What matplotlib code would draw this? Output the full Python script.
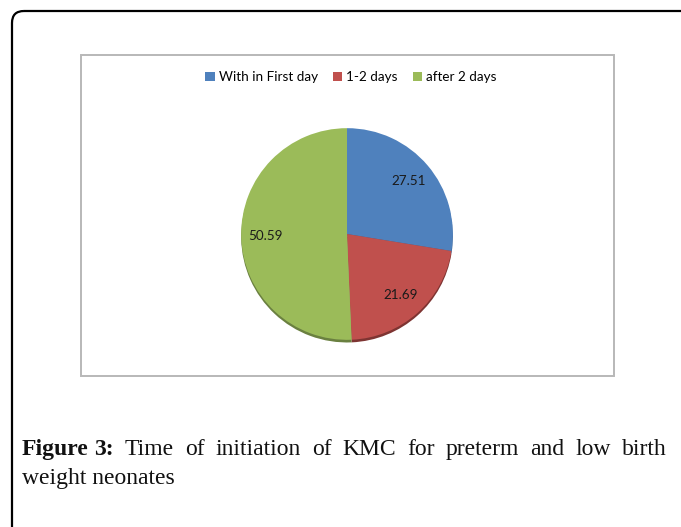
import matplotlib.pyplot as plt
from matplotlib.patches import FancyBboxPatch, Rectangle

# data
categories = ["With in First day", "1-2 days", "after 2 days"]
values = [27.51, 21.69, 50.59]
colors = ["#4F81BD", "#C0504D", "#9BBB59"]
shadow_colors = ["#3A5F8C", "#7E3432", "#6A8040"]

W, H = 681, 527
fig = plt.figure(figsize=(W / 100, H / 100), dpi=100)

# background axes in pixel coordinates
bg = fig.add_axes([0, 0, 1, 1])
bg.set_xlim(0, W)
bg.set_ylim(H, 0)
bg.axis("off")

# outer rounded frame (runs off right and bottom edge)
bg.add_patch(FancyBboxPatch((12, 11), 720, 560, boxstyle="round,pad=0,rounding_size=12",
                            fill=False, edgecolor="black", linewidth=1.6))
# chart box
bg.add_patch(Rectangle((81, 55), 533, 321, fill=False, edgecolor="#B8B8B8", linewidth=1.4))

# pie axes
cx, cy, half = 347, 234, 109
ax = fig.add_axes([(cx - half) / W, (H - cy - half) / H, 2 * half / W, 2 * half / H])

# shadow
ax.pie(values, colors=shadow_colors, startangle=90, counterclock=False,
       center=(0.0, -0.025), radius=1.0, normalize=True)
wedges, texts = ax.pie(values, labels=[f"{v:.2f}" for v in values], colors=colors,
                       startangle=90, counterclock=False, radius=1.0,
                       labeldistance=0.77, normalize=True,
                       textprops=dict(fontsize=9.7, color="#1a1a1a", family="Lato",
                                      ha="center", va="center"))
for w in wedges:
    w.set_edgecolor("none")
ax.set_xlim(-1.03, 1.03)
ax.set_ylim(-1.03, 1.03)
ax.set_aspect("equal")
ax.axis("off")

fig.legend(wedges, categories, loc="center", bbox_to_anchor=(351 / W, 1 - 77 / H),
           ncol=3, frameon=False, prop=dict(family="Lato", size=9.7),
           handlelength=0.7, handleheight=0.7, handletextpad=0.3, columnspacing=1.1)

# caption, first line justified
fig.canvas.draw()
renderer = fig.canvas.get_renderer()
x0, x1 = 22, 667
y1, y2 = 455, 484
fs = 17
words = ["Time", "of", "initiation", "of", "KMC", "for", "preterm", "and", "low", "birth"]
items = [("Figure", "bold"), ("3:", "bold")] + [(w, "normal") for w in words]
objs = []
for txt, wt in items:
    t = bg.text(0, y1, txt, fontsize=fs, family="Liberation Serif", weight=wt,
                va="baseline", ha="left", color="#111111")
    objs.append(t)
widths = [t.get_window_extent(renderer).width for t in objs]
# space inside "Figure 3:" kept small
first_gap = 5
rest_total = sum(widths[2:])
n_gaps = len(items) - 3
gap = (x1 - x0 - widths[0] - first_gap - widths[1] - rest_total) / (n_gaps + 1)
x = x0
objs[0].set_x(x)
x += widths[0] + first_gap
objs[1].set_x(x)
x += widths[1] + gap
for t, w in zip(objs[2:], widths[2:]):
    t.set_x(x)
    x += w + gap

bg.text(x0, y2, "weight neonates", fontsize=fs, family="Liberation Serif",
        va="baseline", ha="left", color="#111111")

fig.savefig("out.png", dpi=100)
